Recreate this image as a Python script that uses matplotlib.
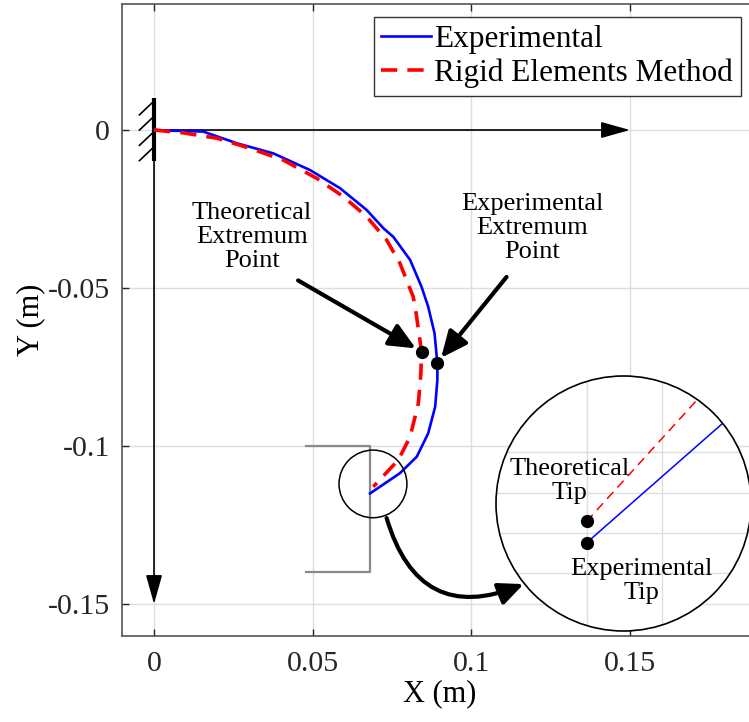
import numpy as np
import matplotlib
matplotlib.use("Agg")
import matplotlib.pyplot as plt
from matplotlib.patches import Circle, FancyArrowPatch

plt.rcParams['font.family'] = ['Liberation Serif', 'DejaVu Serif']
plt.rcParams['axes.unicode_minus'] = False

# deflection curves (m)
exp_x = [0, 0.0050, 0.0155, 0.0261, 0.0376, 0.0492, 0.0586, 0.0670, 0.0723, 0.0754,
         0.0807, 0.0843, 0.0864, 0.0884, 0.0893, 0.0893, 0.0886, 0.0864, 0.0828,
         0.0775, 0.0681]
exp_y = [0, -0.0002, -0.0005, -0.0042, -0.0074, -0.0127, -0.0184, -0.0253, -0.0311,
         -0.0338, -0.0411, -0.0496, -0.0559, -0.0643, -0.0738, -0.0791, -0.0876,
         -0.0960, -0.1034, -0.1086, -0.1150]
rem_x = [0, 0.0092, 0.0198, 0.0303, 0.0407, 0.0513, 0.0597, 0.0670, 0.0733, 0.0775,
         0.0817, 0.0826, 0.0841, 0.0843, 0.0841, 0.0833, 0.0807, 0.0770, 0.0691]
rem_y = [0, -0.0009, -0.0026, -0.0058, -0.0095, -0.0153, -0.0211, -0.0274, -0.0348,
         -0.0422, -0.0528, -0.0580, -0.0686, -0.0702, -0.0770, -0.0865, -0.0971,
         -0.1044, -0.1129]

# extremum points: theoretical, experimental
ext_x = [0.0844, 0.0891]
ext_y = [-0.0702, -0.0738]

# zoomed tip segments shown in the magnifier
tip_theo_x = [0.0659, 0.0760]
tip_theo_y = [-0.1135, -0.1024]
tip_exp_x = [0.0659, 0.0790]
tip_exp_y = [-0.1153, -0.1038]

xticks = [0, 0.05, 0.1, 0.15]
xtick_labels = ['0', '0.05', '0.1', '0.15']
yticks = [-0.15, -0.1, -0.05, 0]
ytick_labels = ['-0.15', '-0.1', '-0.05', '0']

W, H = 749, 722


def fx(px):
    return px / W


def fy(py):
    return 1 - py / H


fig = plt.figure(figsize=(W / 100, H / 100), dpi=100)
ax = fig.add_axes([fx(122.3), fy(635.6), (756.9 - 122.3) / W, (635.6 - 3.6) / H])
ax.set_xlim(-0.01, 0.19)
ax.set_ylim(-0.16, 0.04)

ax.set_xticks(xticks, xtick_labels)
ax.set_yticks(yticks, ytick_labels)
ax.tick_params(direction='in', length=5, width=1, top=True, right=True,
               labelsize=21.5, colors='#262626')
ax.tick_params(axis='x', pad=11)
ax.tick_params(axis='y', pad=9)
ax.grid(True, color='#dedede', lw=1)
for s in ax.spines.values():
    s.set_color('#555555')
    s.set_linewidth(1.2)
ax.set_xlabel('X (m)', fontsize=22, labelpad=2)
ax.set_ylabel('Y (m)', fontsize=22, labelpad=2)

# axis arrows from the clamped root
for end in [(0.15, 0), (0, -0.15)]:
    ax.add_patch(FancyArrowPatch((0, 0), end, arrowstyle='-|>,head_length=1,head_width=0.28',
                                 mutation_scale=18, lw=1.2, color='black', shrinkA=0, shrinkB=0,
                                 zorder=3))

# clamped wall
ax.plot([0, 0], [0.0101, -0.0098], color='black', lw=3, solid_capstyle='butt', zorder=4)
for yy in np.linspace(0.0087, -0.0058, 4):
    ax.plot([-0.0046, -0.0005], [yy - 0.0039, yy], color='black', lw=1.2, zorder=4)

# gray bracket
ax.plot([0.048, 0.068, 0.068, 0.048], [-0.1, -0.1, -0.14, -0.14], color='#8a8a8a', lw=1.6, zorder=2)

ax.plot(exp_x, exp_y, color='#0000ff', lw=1.9, label='Experimental', zorder=5,
        solid_joinstyle='round')
ax.plot(rem_x, rem_y, color='#ff0000', lw=2.6, ls=(0, (4.5, 2.8)), label='Rigid Elements Method',
        zorder=5, dash_joinstyle='round')
ax.plot(ext_x, ext_y, 'o', color='black', ms=8.5, zorder=6)

# small circle around the tips
ax.add_patch(Circle((0.069, -0.112), 0.0107, fill=False, ec='black', lw=1.1, zorder=6))

# extremum arrows
arrow_kw = dict(arrowstyle='-|>,head_length=1,head_width=0.45', mutation_scale=16,
                lw=3, color='black', shrinkA=0, zorder=7)
ax.add_patch(FancyArrowPatch((0.0454, -0.0476), (ext_x[0], ext_y[0]), shrinkB=5, **arrow_kw))
ax.add_patch(FancyArrowPatch((0.1111, -0.0465), (ext_x[1], ext_y[1]), shrinkB=5, **arrow_kw))

# curved arrow to magnifier
ax.add_patch(FancyArrowPatch((0.0733, -0.1228), (0.1165, -0.1437),
                             connectionstyle='arc3,rad=0.55',
                             arrowstyle='-|>,head_length=1,head_width=0.45', mutation_scale=15,
                             lw=3, color='black', shrinkA=0, shrinkB=0, zorder=7))

txt_kw = dict(fontsize=19, ha='center', va='center', linespacing=1.12, zorder=8)
fig.text(fx(252), fy(237), 'Theoretical\nExtremum\nPoint', **txt_kw)
fig.text(fx(532), fy(228), 'Experimental\nExtremum\nPoint', **txt_kw)

leg = ax.legend(loc='upper right', bbox_to_anchor=(fx(741), fy(17)), bbox_transform=fig.transFigure,
                fontsize=22.5, frameon=True, fancybox=False, edgecolor='#333333', framealpha=1,
                borderaxespad=0, borderpad=0.25, labelspacing=0.15, handlelength=1.6,
                handletextpad=0.1)
leg.get_frame().set_linewidth(1.0)

# magnifier inset
ins = fig.add_axes([fx(496), fy(631), 255 / W, 255 / H])
cx, cy, zr = 0.069, -0.112, 0.0107
ins.set_xlim(cx - zr, cx + zr)
ins.set_ylim(cy - zr, cy + zr)
ins.patch.set_visible(False)
for s in ins.spines.values():
    s.set_visible(False)
ins.set_xticks([0.0659, 0.0722])
ins.set_yticks([-0.1178, -0.1145, -0.1111, -0.1077])
ins.tick_params(length=0, labelbottom=False, labelleft=False)
disk = Circle((0.5, 0.5), 0.5, transform=ins.transAxes, facecolor='white', edgecolor='none', zorder=0)
ins.add_patch(disk)
ins.grid(True, color='#dedede', lw=1)
for gl in ins.get_xgridlines() + ins.get_ygridlines():
    gl.set_clip_path(disk)
l1, = ins.plot(tip_theo_x, tip_theo_y, color='#ff0000', lw=1.1, ls=(0, (6, 4)), zorder=3)
l2, = ins.plot(tip_exp_x, tip_exp_y, color='#0000ff', lw=1.1, zorder=3)
for ln in (l1, l2):
    ln.set_clip_path(disk)
ins.plot([tip_theo_x[0], tip_exp_x[0]], [tip_theo_y[0], tip_exp_y[0]], 'o', color='black', ms=8.5, zorder=4)
ins.add_patch(Circle((0.5, 0.5), 0.5, transform=ins.transAxes, fill=False, ec='black', lw=1.2,
                     zorder=5, clip_on=False))

fig.text(fx(570), fy(481), 'Theoretical\nTip', **txt_kw)
fig.text(fx(641), fy(581), 'Experimental\nTip', **txt_kw)

fig.savefig('out.png', dpi=100)
